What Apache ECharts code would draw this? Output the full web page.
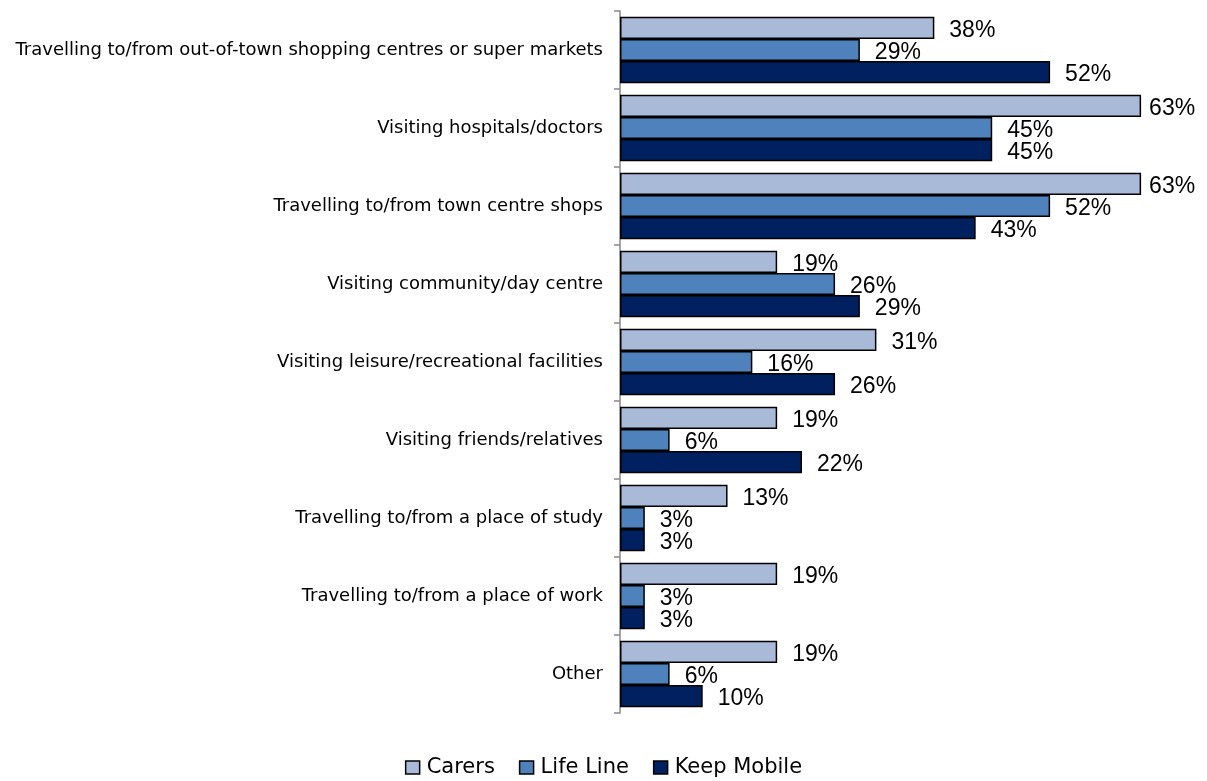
<!DOCTYPE html>
<html>
<head>
<meta charset="utf-8">
<script src="https://cdn.jsdelivr.net/npm/echarts@6/dist/echarts.min.js"></script>
<style>
  html, body { margin: 0; padding: 0; background: #fff; }
  #chart { width: 1207px; height: 781px; }
</style>
</head>
<body>
<div id="chart"></div>
<script>
// Journey purposes, top to bottom
const categories = [
  'Travelling to/from out-of-town shopping centres or super markets',
  'Visiting hospitals/doctors',
  'Travelling to/from town centre shops',
  'Visiting community/day centre',
  'Visiting leisure/recreational facilities',
  'Visiting friends/relatives',
  'Travelling to/from a place of study',
  'Travelling to/from a place of work',
  'Other'
];

// Percentage of respondents per group
const carers      = [38, 63, 63, 19, 31, 19, 13, 19, 19];
const lifeLine    = [29, 45, 52, 26, 16, 6, 3, 3, 6];
const keepMobile  = [52, 45, 43, 29, 26, 22, 3, 3, 10];

const seriesNames  = ['Carers', 'Life Line', 'Keep Mobile'];
const seriesColors = ['#A9BAD8', '#4F81BD', '#002060'];

const X_MAX = 70;

const chart = echarts.init(document.getElementById('chart'));

// Labels near the right edge sit closer to their bar so they stay inside the canvas
function toItems(data) {
  return data.map(function (v) {
    return v > 60 ? { value: v, label: { distance: 8 } } : v;
  });
}

function makeSeries(name, data, color) {
  return {
    name: name,
    type: 'bar',
    data: toItems(data),
    barGap: '0%',
    barCategoryGap: '15%',
    itemStyle: { color: color, borderColor: '#000', borderWidth: 1.5 },
    label: {
      show: true,
      position: 'right',
      distance: 15,
      offset: [0, 3],
      formatter: '{c}%',
      color: '#000',
      fontFamily: 'Liberation Sans, Arial, sans-serif',
      fontSize: 23
    },
    emphasis: { disabled: true }
  };
}

chart.setOption({
  animation: false,
  backgroundColor: '#fff',
  grid: { left: 620, right: 8, top: 11, bottom: 68 },
  xAxis: {
    type: 'value',
    min: 0,
    max: X_MAX,
    show: false
  },
  yAxis: {
    type: 'category',
    data: categories,
    inverse: true,
    axisLine: { show: true, lineStyle: { color: '#888', width: 1.5 } },
    axisTick: { show: true, length: 6, lineStyle: { color: '#888', width: 1.5 } },
    axisLabel: {
      color: '#000',
      fontFamily: 'DejaVu Sans, sans-serif',
      fontSize: 18,
      margin: 17,
      padding: [5, 0, 0, 0]
    },
    splitLine: { show: false }
  },
  legend: {
    bottom: -2,
    left: 'center',
    itemWidth: 14,
    itemHeight: 13,
    itemGap: 24,
    icon: 'rect',
    itemStyle: { borderColor: '#000', borderWidth: 1.5 },
    textStyle: {
      color: '#000',
      fontFamily: 'DejaVu Sans, sans-serif',
      fontSize: 21,
      padding: [0, 0, 0, 2]
    },
    data: seriesNames
  },
  series: [
    makeSeries(seriesNames[0], carers, seriesColors[0]),
    makeSeries(seriesNames[1], lifeLine, seriesColors[1]),
    makeSeries(seriesNames[2], keepMobile, seriesColors[2])
  ]
});
</script>
</body>
</html>
